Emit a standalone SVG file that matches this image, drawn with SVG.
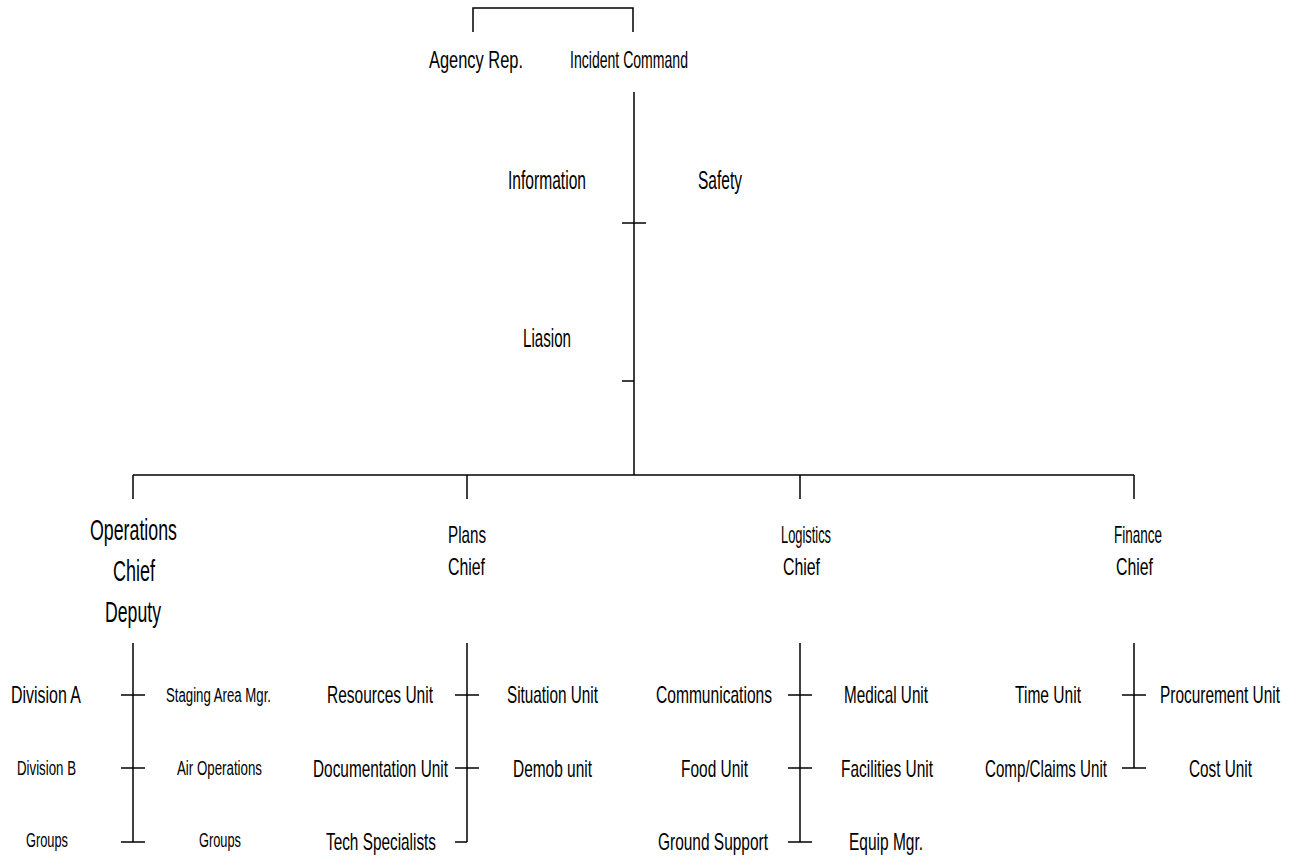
<svg xmlns="http://www.w3.org/2000/svg" width="1293" height="858" viewBox="0 0 1293 858">
<style>
text{font-family:"Liberation Sans",Arial,sans-serif;fill:#000;}
.m{font-size:24px;}
.s{font-size:20px;}
.l{font-size:30px;}
.t{font-size:26px;}
.c line,.c polyline{stroke:#000;stroke-width:1.5;fill:none;}
</style>
<rect width="1293" height="858" fill="#fff"/>
<g id="connectors" class="c">
<polyline points="473,32 473,8 633,8 633,32"/>
<line x1="634" y1="92" x2="634" y2="475"/>
<line x1="622" y1="223" x2="646" y2="223"/>
<line x1="622" y1="381" x2="634" y2="381"/>
<line x1="133" y1="475" x2="1134" y2="475"/>
<line x1="133" y1="475" x2="133" y2="499"/>
<line x1="467" y1="475" x2="467" y2="499"/>
<line x1="800" y1="475" x2="800" y2="499"/>
<line x1="1134" y1="475" x2="1134" y2="499"/>
<line x1="133" y1="643" x2="133" y2="842"/>
<line x1="121" y1="695" x2="145" y2="695"/>
<line x1="121" y1="768" x2="145" y2="768"/>
<line x1="121" y1="842" x2="145" y2="842"/>
<line x1="467" y1="643" x2="467" y2="842"/>
<line x1="455" y1="695" x2="479" y2="695"/>
<line x1="455" y1="768" x2="479" y2="768"/>
<line x1="455" y1="842" x2="467" y2="842"/>
<line x1="800" y1="643" x2="800" y2="842"/>
<line x1="788" y1="695" x2="812" y2="695"/>
<line x1="788" y1="768" x2="812" y2="768"/>
<line x1="788" y1="842" x2="812" y2="842"/>
<line x1="1134" y1="643" x2="1134" y2="768"/>
<line x1="1122" y1="695" x2="1146" y2="695"/>
<line x1="1122" y1="768" x2="1146" y2="768"/>
</g>
<g id="agency-rep"><text class="m" x="429" y="68" textLength="94" lengthAdjust="spacingAndGlyphs">Agency Rep.</text></g>
<g id="incident-command"><text class="m" x="570" y="68" textLength="118" lengthAdjust="spacingAndGlyphs">Incident Command</text></g>
<g id="information"><text class="t" x="508" y="189" textLength="78" lengthAdjust="spacingAndGlyphs">Information</text></g>
<g id="safety"><text class="t" x="698" y="189" textLength="44" lengthAdjust="spacingAndGlyphs">Safety</text></g>
<g id="liasion"><text class="t" x="523" y="347" textLength="48" lengthAdjust="spacingAndGlyphs">Liasion</text></g>
<g id="operations">
<text class="l" x="90" y="540" textLength="87" lengthAdjust="spacingAndGlyphs">Operations</text>
<text class="l" x="113" y="581" textLength="42" lengthAdjust="spacingAndGlyphs">Chief</text>
<text class="l" x="105" y="622" textLength="56" lengthAdjust="spacingAndGlyphs">Deputy</text>
</g>
<g id="plans">
<text class="m" x="448" y="543" textLength="38" lengthAdjust="spacingAndGlyphs">Plans</text>
<text class="m" x="448" y="575" textLength="37" lengthAdjust="spacingAndGlyphs">Chief</text>
</g>
<g id="logistics">
<text class="m" x="781" y="543" textLength="50" lengthAdjust="spacingAndGlyphs">Logistics</text>
<text class="m" x="783" y="575" textLength="37" lengthAdjust="spacingAndGlyphs">Chief</text>
</g>
<g id="finance">
<text class="m" x="1114" y="543" textLength="48" lengthAdjust="spacingAndGlyphs">Finance</text>
<text class="m" x="1116" y="575" textLength="37" lengthAdjust="spacingAndGlyphs">Chief</text>
</g>
<g id="division-a"><text class="m" x="11" y="703" textLength="70" lengthAdjust="spacingAndGlyphs">Division A</text></g>
<g id="staging-area-mgr"><text class="s" x="166" y="702" textLength="105" lengthAdjust="spacingAndGlyphs">Staging Area Mgr.</text></g>
<g id="division-b"><text class="s" x="17" y="775" textLength="59" lengthAdjust="spacingAndGlyphs">Division B</text></g>
<g id="air-operations"><text class="s" x="177" y="775" textLength="85" lengthAdjust="spacingAndGlyphs">Air Operations</text></g>
<g id="groups-left"><text class="s" x="26" y="847" textLength="42" lengthAdjust="spacingAndGlyphs">Groups</text></g>
<g id="groups-right"><text class="s" x="199" y="847" textLength="42" lengthAdjust="spacingAndGlyphs">Groups</text></g>
<g id="resources-unit"><text class="m" x="327" y="703" textLength="106" lengthAdjust="spacingAndGlyphs">Resources Unit</text></g>
<g id="situation-unit"><text class="m" x="507" y="703" textLength="91" lengthAdjust="spacingAndGlyphs">Situation Unit</text></g>
<g id="documentation-unit"><text class="m" x="313" y="777" textLength="135" lengthAdjust="spacingAndGlyphs">Documentation Unit</text></g>
<g id="demob-unit"><text class="m" x="513" y="777" textLength="79" lengthAdjust="spacingAndGlyphs">Demob unit</text></g>
<g id="tech-specialists"><text class="m" x="326" y="850" textLength="110" lengthAdjust="spacingAndGlyphs">Tech Specialists</text></g>
<g id="communications"><text class="m" x="656" y="703" textLength="116" lengthAdjust="spacingAndGlyphs">Communications</text></g>
<g id="medical-unit"><text class="m" x="844" y="703" textLength="84" lengthAdjust="spacingAndGlyphs">Medical Unit</text></g>
<g id="food-unit"><text class="m" x="681" y="777" textLength="67" lengthAdjust="spacingAndGlyphs">Food Unit</text></g>
<g id="facilities-unit"><text class="m" x="841" y="777" textLength="92" lengthAdjust="spacingAndGlyphs">Facilities Unit</text></g>
<g id="ground-support"><text class="m" x="658" y="850" textLength="110" lengthAdjust="spacingAndGlyphs">Ground Support</text></g>
<g id="equip-mgr"><text class="m" x="849" y="850" textLength="74" lengthAdjust="spacingAndGlyphs">Equip Mgr.</text></g>
<g id="time-unit"><text class="m" x="1015" y="703" textLength="66" lengthAdjust="spacingAndGlyphs">Time Unit</text></g>
<g id="procurement-unit"><text class="m" x="1160" y="703" textLength="120" lengthAdjust="spacingAndGlyphs">Procurement Unit</text></g>
<g id="comp-claims-unit"><text class="m" x="985" y="777" textLength="122" lengthAdjust="spacingAndGlyphs">Comp/Claims Unit</text></g>
<g id="cost-unit"><text class="m" x="1189" y="777" textLength="63" lengthAdjust="spacingAndGlyphs">Cost Unit</text></g>
</svg>
